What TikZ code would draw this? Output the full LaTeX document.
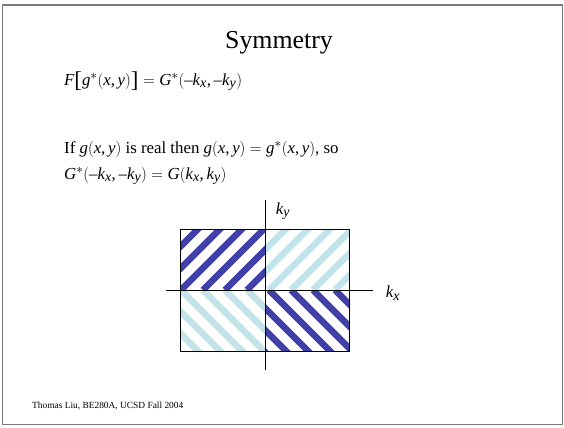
\documentclass[tikz,border=0pt]{standalone}
\usepackage{fontspec}
\setmainfont{Liberation Serif}
\usepackage[italic]{mathastext}
\definecolor{HatchDark}{HTML}{4040A8}
\definecolor{HatchLight}{HTML}{C2E4E8}
\definecolor{FrameGray}{HTML}{7A7A7A}
\newcommand{\tallbr}[1]{\mathopen{\raisebox{-3.5pt}{\fontsize{29}{29}\selectfont #1}}}

\begin{document}
\begin{tikzpicture}[x=1.2766pt,y=-1.2766pt]
  \tikzset{
    slidetext/.style={anchor=base west,inner sep=0pt,font=\fontsize{21.5}{26}\selectfont},
    hatch/.style={line width=8.5pt},
    axis/.style={line width=1.1pt,black}
  }
  \useasboundingbox (0,0) rectangle (564,427);
  \draw[FrameGray,line width=1.3pt] (2.5,5) rectangle (562.5,424.5);

  \node[font=\fontsize{33}{38}\selectfont,anchor=base,inner sep=0pt] (title) at (279,48) {Symmetry};
  \node[slidetext] (eqone) at (64,85)
    {$F\tallbr{[}g^*(x,y)\mathclose{\raisebox{-3.5pt}{\fontsize{29}{29}\selectfont ]}}= G^*(-k_x,-k_y)$};
  \node[slidetext] (ifline) at (64,153) {If $g(x,y)$ is real then $g(x,y) = g^*(x,y)$, so};
  \node[slidetext] (eqtwo) at (64,179) {$G^*(-k_x,-k_y) = G(k_x,k_y)$};
  \node[anchor=base west,inner sep=0pt,font=\fontsize{12}{14}\selectfont] (footer) at (32,408)
    {Thomas Liu, BE280A, UCSD Fall 2004};

  % hatched quadrants
  \begin{scope}
    \clip (180,229) rectangle (265,290);
    \foreach \k in {0,...,11} \draw[hatch,HatchDark] (115+22*\k,290) -- ++(75,-75);
  \end{scope}
  \begin{scope}
    \clip (265,229) rectangle (349,290);
    \foreach \k in {0,...,11} \draw[hatch,HatchLight] (115+22*\k,290) -- ++(75,-75);
  \end{scope}
  \begin{scope}
    \clip (180,290) rectangle (265,351);
    \foreach \k in {0,...,11} \draw[hatch,HatchLight] (115+22*\k,290) -- ++(75,75);
  \end{scope}
  \begin{scope}
    \clip (265,290) rectangle (349,351);
    \foreach \k in {0,...,11} \draw[hatch,HatchDark] (115+22*\k,290) -- ++(75,75);
  \end{scope}
  \draw[line width=1.1pt] (180,229) rectangle (349,351);

  \coordinate (xleft) at (166,290);
  \coordinate (xright) at (373,290);
  \coordinate (ybottom) at (265,370);
  \coordinate (ytop) at (265,200);
  \draw[axis] (xleft) -- (xright);
  \draw[axis] (ybottom) -- (ytop);
  \node[font=\fontsize{21.5}{26}\selectfont] (ky) at (283,211) {$k_y$};
  \node[font=\fontsize{21.5}{26}\selectfont] (kx) at (393,293) {$k_x$};
\end{tikzpicture}
\end{document}
